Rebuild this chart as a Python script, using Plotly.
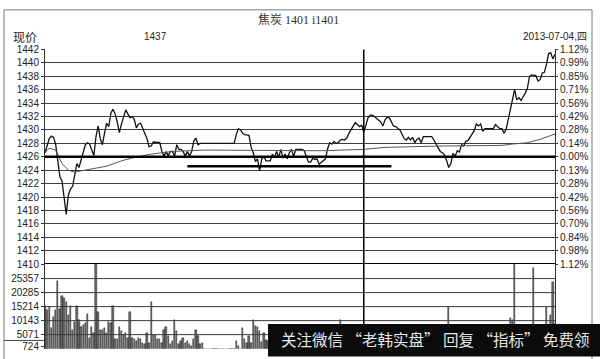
import plotly.graph_objects as go

# ---------------- data ----------------
title_text = "焦炭 1401 i1401"
date_text = "2013-07-04,四"
price_label = "现价"
ref_price_text = "1437"
watermark_text = "关注微信 “老韩实盘” 回复 “指标” 免费领"

base_price = 1426
session_split_minute = 150          # 11:30 / 13:30 separator
support_level = 1424.6
support_start, support_end = 67, 163

price_ticks = list(range(1410, 1443, 2))
pct_ticktext = ["1.12%", "0.98%", "0.84%", "0.70%", "0.56%", "0.42%", "0.28%", "0.13%",
                "0.00%", "0.14%", "0.28%", "0.42%", "0.56%", "0.71%", "0.85%", "0.99%", "1.12%"]
vol_ticks = [724, 5071, 10143, 15214, 20285, 25357]

price_values = [
    1426.6, 1427.8, 1428.7, 1429.1, 1428.9, 1427.9, 1425.5, 1423.0, 1422.4, 1420.0,
    1417.4, 1420.3, 1421.2, 1421.6, 1423.5, 1425.0, 1424.4, 1425.6, 1426.8, 1427.8,
    1428.1, 1427.9, 1427.0, 1426.2, 1429.0, 1430.6, 1428.7, 1427.8, 1429.5, 1431.0,
    1430.5, 1432.5, 1433.1, 1432.4, 1431.2, 1429.6, 1430.9, 1432.0, 1433.0, 1432.4,
    1431.8, 1432.0, 1431.6, 1430.3, 1430.9, 1431.0, 1430.2, 1429.2, 1428.7, 1427.5,
    1427.6, 1428.2, 1428.2, 1428.2, 1428.1, 1426.8, 1426.1, 1426.8, 1426.1, 1426.8,
    1426.8, 1426.1, 1427.8, 1427.1, 1427.1, 1426.8, 1426.1, 1426.8, 1426.1, 1426.8,
    1428.3, 1428.8, 1427.8, 1428.0, 1428.0, 1428.0, 1428.0, 1428.0, 1428.0, 1428.0,
    1428.0, 1428.0, 1428.0, 1428.0, 1428.0, 1428.0, 1428.0, 1428.0, 1428.0, 1428.0,
    1429.3, 1430.2, 1430.0, 1429.5, 1429.3, 1429.3, 1429.2, 1427.4, 1426.6, 1425.3,
    1425.7, 1423.9, 1425.7, 1426.0, 1425.4, 1425.4, 1425.4, 1426.4, 1425.9, 1426.8,
    1425.9, 1427.1, 1425.8, 1426.4, 1425.7, 1426.6, 1427.1, 1426.0, 1427.1, 1427.1,
    1427.1, 1427.1, 1426.9, 1425.9, 1425.2, 1425.2, 1425.8, 1425.6, 1425.7, 1424.9,
    1425.2, 1425.5, 1425.7, 1427.2, 1428.1, 1427.9, 1428.3, 1428.0, 1428.1, 1428.5,
    1428.6, 1428.5, 1428.8, 1429.5, 1430.0, 1430.5, 1431.1, 1430.8, 1430.5, 1430.7,
    1429.7, 1430.7, 1431.8, 1432.2, 1432.2, 1432.0, 1431.7, 1431.5, 1431.2, 1430.6,
    1431.5, 1431.9, 1431.8, 1431.2, 1430.6, 1430.5, 1430.3, 1430.0, 1429.4, 1428.7,
    1428.5, 1428.9, 1428.5, 1428.9, 1428.1, 1428.6, 1428.8, 1428.1, 1429.0, 1429.0,
    1429.0, 1429.0, 1429.0, 1428.5, 1428.0, 1427.3, 1426.8, 1426.6, 1426.3, 1425.4,
    1424.4, 1425.0, 1426.5, 1426.1, 1426.9, 1426.7, 1427.8, 1427.6, 1428.3, 1428.4,
    1428.9, 1429.3, 1429.9, 1430.9, 1430.6, 1430.9, 1429.8, 1430.2, 1430.2, 1430.2,
    1430.2, 1430.2, 1430.8, 1430.5, 1430.2, 1430.2, 1429.5, 1430.1, 1431.7, 1432.8,
    1434.5, 1436.0, 1434.5, 1434.8, 1434.4, 1434.9, 1435.5, 1436.2, 1438.0, 1438.2,
    1438.2, 1438.1, 1437.3, 1437.5, 1438.5, 1438.6, 1439.8, 1441.4, 1441.5, 1440.6,
    1441.3,
]
minutes = list(range(len(price_values)))

avg_minutes = [0, 2, 5, 8, 11, 14, 17, 20, 24, 29, 36, 42, 50, 60, 75, 90, 110, 130,
               150, 160, 185, 205, 215, 220, 227, 233, 240]
avg_values = [1426.6, 1427.3, 1427.0, 1425.0, 1424.0, 1423.7, 1423.9, 1424.1, 1424.3,
              1424.6, 1425.4, 1425.9, 1426.4, 1426.8, 1427.0, 1427.0, 1426.9, 1426.9,
              1427.1, 1427.4, 1427.6, 1427.6, 1427.7, 1427.9, 1428.1, 1428.6, 1429.4]

volumes = [
    15570, 13820, 14970, 7420, 11470, 13820, 24310, 14410, 19060, 18470,
    16720, 12070, 15570, 6820, 9720, 15570, 10320, 7980, 8570, 9170,
    12660, 3920, 7980, 5670, 36000, 13220, 6820, 6820, 7420, 5670,
    9720, 9170, 15570, 3320, 3320, 7980, 6230, 5070, 5670, 3920,
    13220, 3920, 3320, 2740, 3920, 3320, 2170, 1570, 5670, 2170,
    16720, 5070, 5070, 3320, 3320, 2170, 6820, 7980, 4480, 1570,
    2740, 10320, 6230, 1570, 2740, 3920, 2170, 2740, 1570, 980,
    3320, 6820, 4480, 1570, 2170, 0, 0, 0, 0, 0,
    0, 0, 0, 0, 0, 0, 0, 0, 0, 0,
    2740, 980, 0, 7420, 3320, 2170, 4480, 2000, 10320, 8000,
    7980, 6230, 2500, 5670, 3000, 2600, 4100, 3300, 2200, 5200,
    3800, 2900, 4400, 2100, 3600, 5100, 2800, 3300, 4700, 2500,
    3100, 2400, 4300, 3500, 2600, 3900, 2200, 3000, 4600, 2800,
    3400, 2300, 3700, 4900, 2700, 3200, 4100, 2500, 3800, 10300,
    3600, 2900, 4200, 3100, 5400, 3700, 2600, 4800, 3300, 2900,
    6200, 4400, 3500, 2800, 3900, 3100, 2600, 3700, 4300, 2500,
    3300, 2800, 4100, 3600, 2400, 3200, 4500, 2900, 3500, 3000,
    2700, 3800, 3300, 2600, 4000, 3400, 2900, 3600, 3100, 2800,
    3500, 3000, 4200, 3300, 2700, 3900, 4600, 3800, 5200, 6100,
    15000, 6400, 5100, 4300, 5600, 3900, 4700, 4100, 5300, 3600,
    4100, 3600, 5200, 4700, 3900, 5800, 4400, 3700, 5100, 4600,
    4400, 5000, 3700, 4200, 6000, 4800, 3900, 4500, 5400, 11000,
    10500, 32000, 7200, 5600, 6300, 5100, 4700, 6800, 7400, 6200,
    29000, 6600, 5300, 5900, 7100, 6400, 15000, 8100, 12000, 24000,
    9000,
]

# ---------------- figure ----------------
W, H = 600, 359
px = lambda v: v / W
py = lambda v: 1 - v / H

tick_font = dict(family="Liberation Sans, Arial, sans-serif", size=10, color="#222")
grid_col = "#3c3c3c"

fig = go.Figure()
fig.add_trace(go.Scatter(x=minutes, y=price_values, mode="lines",
                         line=dict(color="#111", width=1.3), xaxis="x", yaxis="y",
                         hoverinfo="skip"))
fig.add_trace(go.Scatter(x=avg_minutes, y=avg_values, mode="lines",
                         line=dict(color="#555", width=1), xaxis="x", yaxis="y",
                         hoverinfo="skip"))
fig.add_trace(go.Scatter(x=[support_start, support_end], y=[support_level, support_level],
                         mode="lines", line=dict(color="#000", width=2.5),
                         xaxis="x", yaxis="y", hoverinfo="skip"))
fig.add_trace(go.Bar(x=minutes, y=volumes, xaxis="x2", yaxis="y2", width=0.7,
                     marker=dict(color="#6a6a6a", line=dict(color="#222", width=0.5)),
                     hoverinfo="skip"))

x_dom = [px(45), px(555)]
price_dom = [py(267), py(45)]
vol_bottom = 354.5
vol_dom = [py(vol_bottom), py(267)]
vol_max = (vol_bottom - 267) * 349.8

shapes = []
# outer frame
shapes.append(dict(type="rect", xref="paper", yref="paper", x0=px(4), x1=px(592),
                   y0=-0.02, y1=py(4), line=dict(color="#777", width=1)))
# small line in left margin
shapes.append(dict(type="line", xref="paper", yref="paper", x0=px(4), x1=px(45),
                   y0=py(346), y1=py(346), line=dict(color="#444", width=1)))
# volume grid lines
for v in vol_ticks[1:]:
    shapes.append(dict(type="line", xref="x2", yref="y2", x0=0, x1=240, y0=v, y1=v,
                       line=dict(color=grid_col, width=1)))
# base price and bottom lines
shapes.append(dict(type="line", xref="x", yref="y", x0=0, x1=240, y0=base_price,
                   y1=base_price, line=dict(color="#000", width=2.5)))
shapes.append(dict(type="line", xref="x", yref="y", x0=0, x1=240, y0=price_ticks[0],
                   y1=price_ticks[0], line=dict(color="#000", width=2)))
# session separator
shapes.append(dict(type="line", xref="x", yref="paper", x0=session_split_minute,
                   x1=session_split_minute, y0=0, y1=py(45),
                   line=dict(color="#000", width=1.5)))
# watermark box
shapes.append(dict(type="rect", xref="paper", yref="paper", x0=px(268), x1=1.0,
                   y0=-0.01, y1=py(329), fillcolor="#0b0b0b", line=dict(width=0),
                   layer="above"))

annotations = [
    dict(text=title_text, x=px(298), y=py(15), xref="paper", yref="paper",
         showarrow=False, xanchor="center", yanchor="middle",
         font=dict(family="Liberation Serif, Noto Sans CJK SC", size=12, color="#333")),
    dict(text=price_label, x=px(11), y=py(32), xref="paper", yref="paper",
         showarrow=False, xanchor="left", yanchor="middle",
         font=dict(family="Noto Sans CJK SC", size=12, color="#222")),
    dict(text=ref_price_text, x=px(155), y=py(32), xref="paper", yref="paper",
         showarrow=False, xanchor="center", yanchor="middle", font=tick_font),
    dict(text=date_text, x=px(589), y=py(32), xref="paper", yref="paper",
         showarrow=False, xanchor="right", yanchor="middle",
         font=dict(family="Liberation Sans, Noto Sans CJK SC", size=10, color="#222")),
    dict(text=watermark_text, x=px(279), y=py(344), xref="paper", yref="paper",
         showarrow=False, xanchor="left", yanchor="middle",
         font=dict(family="Noto Sans CJK SC", size=15.5, color="#e6e6e6")),
]

fig.update_layout(
    width=W, height=H, margin=dict(l=0, r=0, t=0, b=0),
    paper_bgcolor="white", plot_bgcolor="white", showlegend=False, bargap=0,
    xaxis=dict(domain=x_dom, range=[0, 240], anchor="y", showticklabels=False,
               showgrid=False, zeroline=False, ticks=""),
    xaxis2=dict(domain=x_dom, range=[0, 240], anchor="y2", matches="x",
                showticklabels=False, showgrid=False, zeroline=False, ticks=""),
    yaxis=dict(domain=price_dom, range=[price_ticks[0], price_ticks[-1]], anchor="x",
               tickvals=price_ticks, ticktext=[str(v) for v in price_ticks],
               ticks="outside", ticklen=3, tickcolor="#333", tickfont=tick_font,
               showgrid=True, gridcolor=grid_col, gridwidth=1, zeroline=False,
               showline=True, linecolor="#333", linewidth=1, mirror=True),
    yaxis3=dict(overlaying="y", side="right", anchor="x",
                range=[price_ticks[0], price_ticks[-1]], tickvals=price_ticks,
                ticktext=pct_ticktext, ticks="outside", ticklen=2, tickcolor="#333",
                tickfont=tick_font, showgrid=False, zeroline=False, showline=False),
    yaxis2=dict(domain=vol_dom, range=[0, vol_max], anchor="x2",
                tickvals=vol_ticks, ticktext=[str(v) for v in vol_ticks],
                ticks="outside", ticklen=3, tickcolor="#333", tickfont=tick_font,
                showgrid=False, zeroline=False, showline=True, linecolor="#333",
                linewidth=1, mirror=True),
    shapes=shapes, annotations=annotations,
)
# dummy trace to activate yaxis3
fig.add_trace(go.Scatter(x=[None], y=[None], xaxis="x", yaxis="y3", showlegend=False))

fig.write_html("out.html")
